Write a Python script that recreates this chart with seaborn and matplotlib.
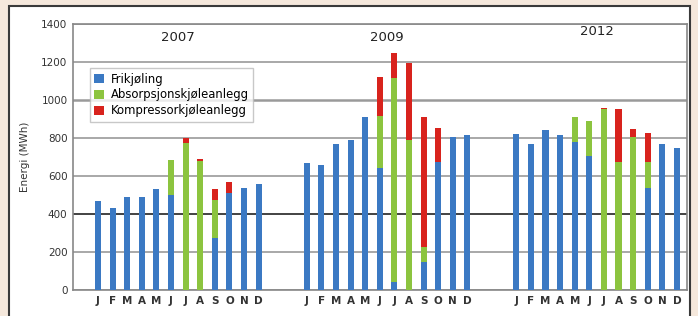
import matplotlib
matplotlib.use("Agg")
import matplotlib.pyplot as plt
import seaborn as sns
import pandas as pd
import numpy as np
from matplotlib.patches import Rectangle, Patch

years = ["2007", "2009", "2012"]
months = ["J", "F", "M", "A", "M", "J", "J", "A", "S", "O", "N", "D"]
series = ["Frikjøling", "Absorpsjonskjøleanlegg", "Kompressorkjøleanlegg"]

fri_2007 = [470, 430, 490, 490, 530, 500, 0, 0, 275, 510, 535, 560]
abs_2007 = [0, 0, 0, 0, 0, 185, 775, 680, 200, 0, 0, 0]
komp_2007 = [0, 0, 0, 0, 0, 0, 25, 10, 55, 60, 0, 0]

fri_2009 = [670, 660, 770, 790, 910, 640, 40, 0, 145, 675, 805, 815]
abs_2009 = [0, 0, 0, 0, 0, 275, 1075, 790, 80, 0, 0, 0]
komp_2009 = [0, 0, 0, 0, 0, 205, 130, 405, 685, 180, 0, 0]

fri_2012 = [820, 770, 840, 815, 780, 705, 0, 0, 0, 535, 770, 745]
abs_2012 = [0, 0, 0, 0, 130, 185, 955, 675, 805, 140, 0, 0]
komp_2012 = [0, 0, 0, 0, 0, 0, 5, 280, 45, 150, 0, 0]

yticks = [0, 200, 400, 600, 800, 1000, 1200, 1400]

colors = {"Frikjøling": "#3b79c3", "Absorpsjonskjøleanlegg": "#8cc43f", "Kompressorkjøleanlegg": "#d8231d"}

fri = [fri_2007, fri_2009, fri_2012]
ab = [abs_2007, abs_2009, abs_2012]
ko = [komp_2007, komp_2009, komp_2012]
offsets = [0.0, 14.3, 28.65]

rows = []
for yi, y in enumerate(years):
    for mi, m in enumerate(months):
        f, a, k = fri[yi][mi], ab[yi][mi], ko[yi][mi]
        rows.append({"year": y, "month": m, "pos": offsets[yi] + mi,
                     "s1": f, "s2": f + a, "s3": f + a + k})
df = pd.DataFrame(rows)

fig = plt.figure(figsize=(6.98, 3.16), dpi=100)
fig.patch.set_facecolor("#f5e8dc")
fig.patches.append(Rectangle((9 / 698, -0.05), (690 - 9) / 698, (316 - 6) / 316 + 0.05,
                             transform=fig.transFigure, facecolor="white",
                             edgecolor="#3a3a3a", linewidth=1.5, zorder=-10))
ax = fig.add_axes([73 / 698, 26 / 316, (687 - 73) / 698, 266 / 316])
ax.set_zorder(1)
ax.set_facecolor("white")

w = 0.42
sns.barplot(data=df, x="pos", y="s3", native_scale=True, color=colors["Kompressorkjøleanlegg"],
            width=w, saturation=1, ax=ax, errorbar=None, zorder=3)
sns.barplot(data=df, x="pos", y="s2", native_scale=True, color=colors["Absorpsjonskjøleanlegg"],
            width=w, saturation=1, ax=ax, errorbar=None, zorder=3)
sns.barplot(data=df, x="pos", y="s1", native_scale=True, color=colors["Frikjøling"],
            width=w, saturation=1, ax=ax, errorbar=None, zorder=3)

ax.set_xlim(-1.71, 40.34)
ax.set_ylim(0, 1400)
ax.set_yticks(yticks)
ax.set_yticklabels([str(t) for t in yticks], fontsize=7.5, color="#333333")
ax.set_xticks(df["pos"].tolist())
ax.set_xticklabels(df["month"].tolist(), fontsize=7.5, color="#333333", fontweight="bold")
ax.tick_params(axis="both", length=0, pad=4)
ax.set_xlabel("")
ax.set_ylabel("Energi (MWh)", fontsize=7.5, color="#333333", labelpad=8)

ax.yaxis.grid(True, color="#9a9a9a", linewidth=1.2, zorder=0)
ax.set_axisbelow(True)
for t, gl in zip(yticks, ax.get_ygridlines()):
    if t == 400:
        gl.set_color("#222222")
    if t == 1000:
        gl.set_linewidth(1.8)
for s in ax.spines.values():
    s.set_color("#888888")
    s.set_linewidth(1.2)

title_y = [1328, 1328, 1358]
for yi, y in enumerate(years):
    ax.text(offsets[yi] + 5.5, title_y[yi], y, ha="center", va="center", fontsize=9.5, color="#222222")

handles = [Patch(facecolor=colors[s], edgecolor="none") for s in series]
leg = ax.legend(handles, series, loc="upper left", bbox_to_anchor=(0.027, 0.835), fontsize=8.4,
                frameon=True, fancybox=False, edgecolor="#bbbbbb", handlelength=0.8,
                handleheight=0.8, handletextpad=0.6, labelspacing=0.25, borderpad=0.4,
                borderaxespad=0)
leg.get_frame().set_linewidth(1.0)

fig.savefig("out.png", dpi=100, facecolor=fig.get_facecolor())
